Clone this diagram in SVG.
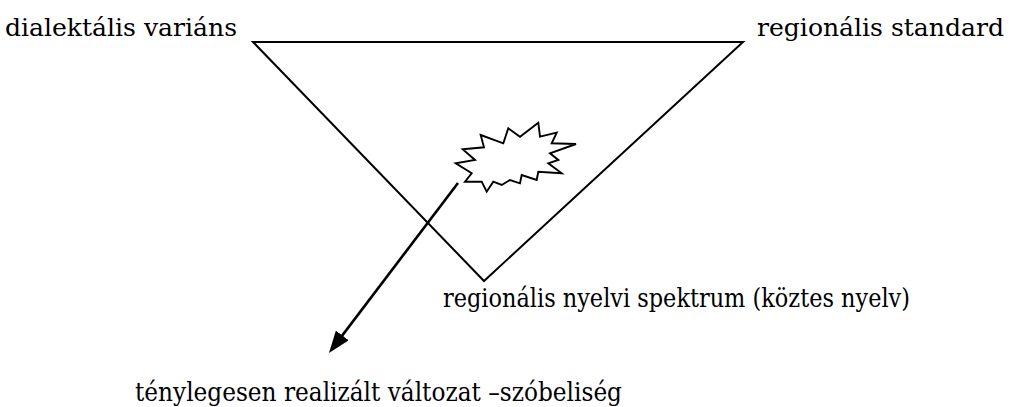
<svg xmlns="http://www.w3.org/2000/svg" width="1011" height="407" viewBox="0 0 1011 407">
<style>
.t{font-family:'DejaVu Serif',serif;fill:#000}
.top{font-size:25px}
.bot{font-size:26px}
.ln{fill:none;stroke:#000;stroke-width:2}
.burst{fill:none;stroke:#000;stroke-width:1.9;stroke-linejoin:miter}
.arr{fill:none;stroke:#000;stroke-width:2.6}
</style>
<defs>
<marker id="ah" markerWidth="22" markerHeight="16" refX="14" refY="8" orient="auto" markerUnits="userSpaceOnUse">
<path d="M0,0 L22,8 L0,16 Z" fill="#000"/>
</marker>
</defs>
<rect width="1011" height="407" fill="#fff"/>
<g id="triangle"><path class="ln" d="M253,42 L743,42 L484,281 Z"/></g>
<g id="burst"><path class="burst" d="M480.7,135 L503.3,143.3 L508.3,128.3 L520,136.7 L538.3,122.7 L540,136.7 L556.7,132.7 L551.7,143.3 L576,144 L550,153.3 L558.3,160 L548.3,163.3 L561.7,173.3 L538.3,171.7 L536.7,180 L521.7,175 L520,183.3 L510,180 L501.7,185 L493.3,181.7 L486.7,191.7 L481.7,181.7 L465,181.7 L471.7,173.3 L455.7,163.3 L475,160 L462.7,149.3 L484,147.3 Z"/></g>
<g id="label-dialect"><text class="t top" x="5" y="36" textLength="232" lengthAdjust="spacingAndGlyphs">dialektális variáns</text></g>
<g id="label-standard"><text class="t top" x="757" y="36" textLength="247" lengthAdjust="spacingAndGlyphs">regionális standard</text></g>
<g id="label-spectrum"><text class="t bot" x="443" y="307" textLength="467" lengthAdjust="spacingAndGlyphs">regionális nyelvi spektrum (köztes nyelv)</text></g>
<g id="label-realized"><text class="t bot" x="135" y="401" textLength="487" lengthAdjust="spacingAndGlyphs">ténylegesen realizált változat –szóbeliség</text></g>
<g id="connectors"><path class="arr" d="M458,183 L333.8,346.6" marker-end="url(#ah)"/></g>
</svg>
